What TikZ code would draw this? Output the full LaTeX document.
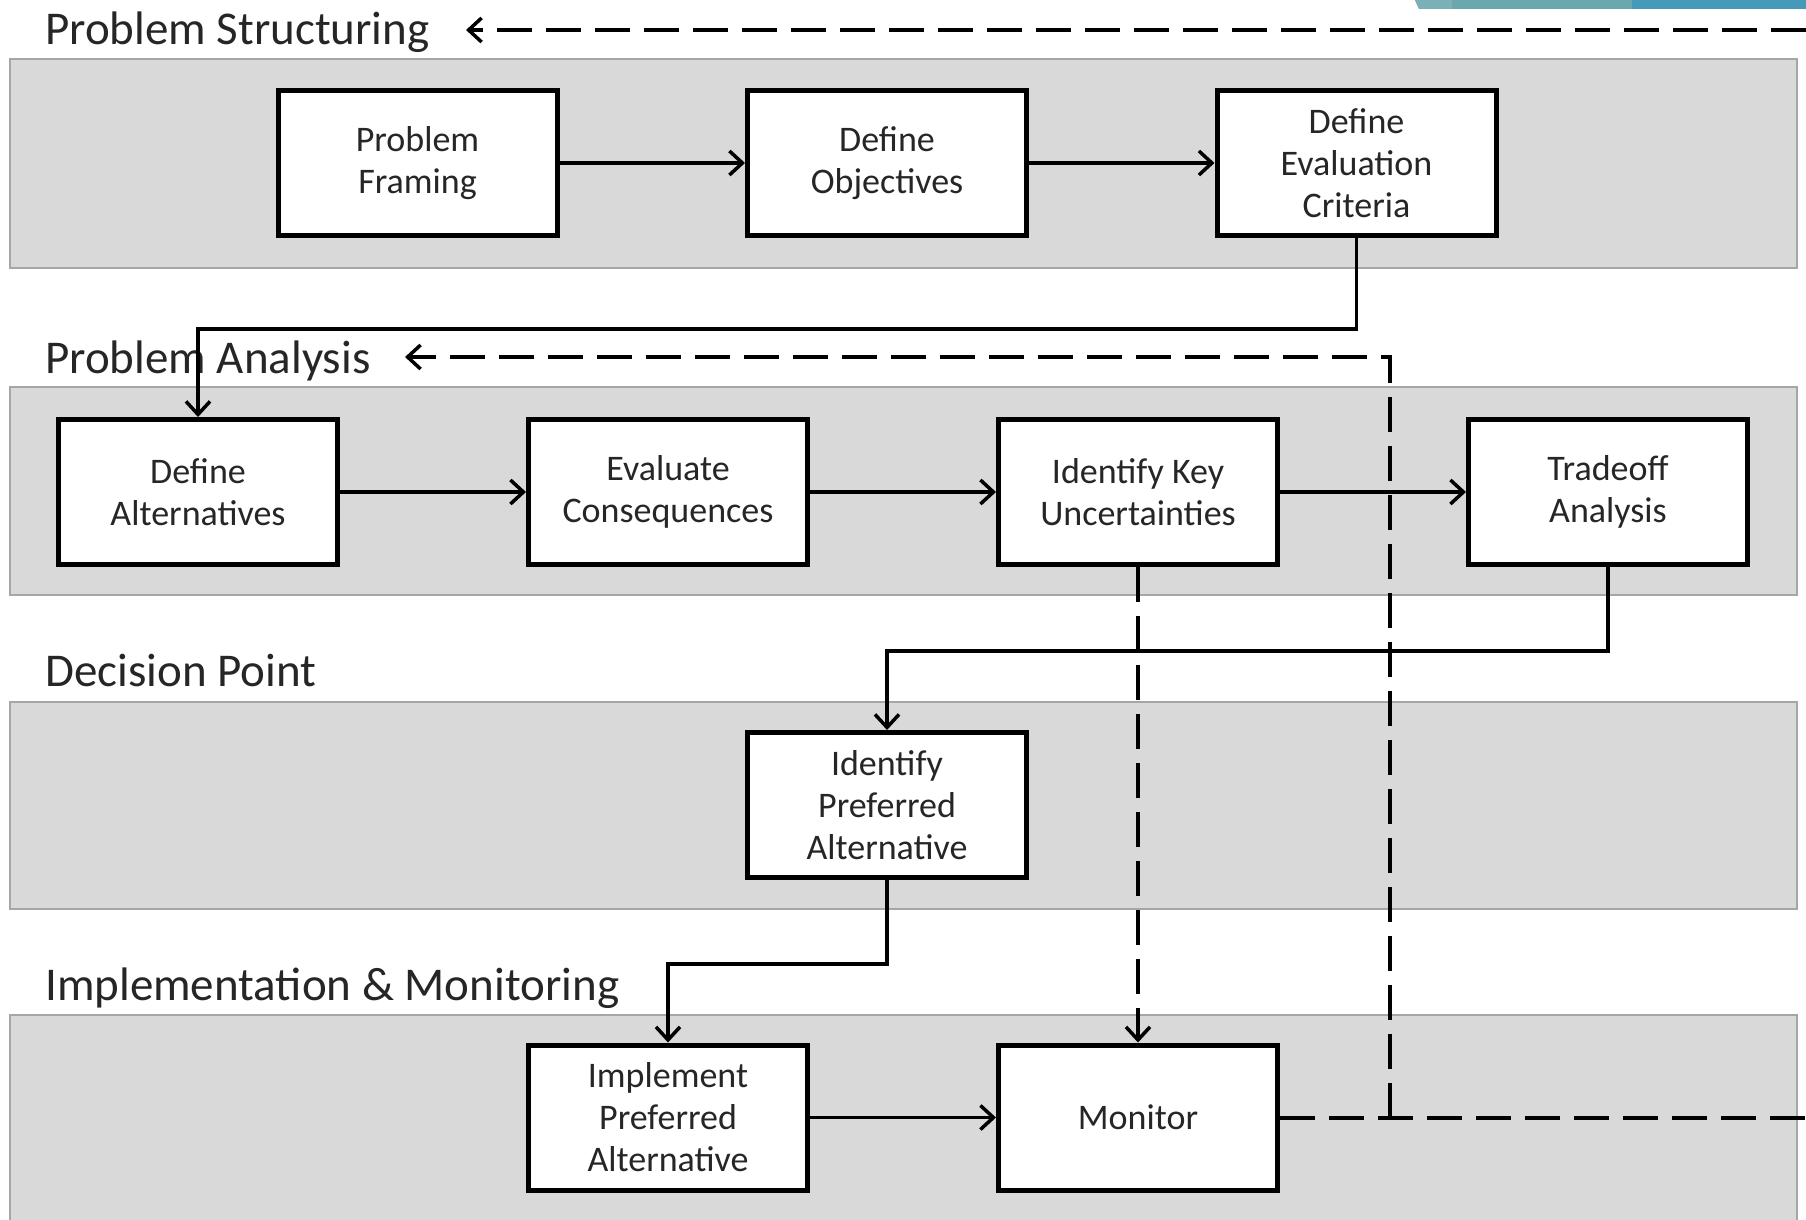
\documentclass[tikz,border=0pt]{standalone}
\usepackage{fontspec}
\setmainfont{Carlito}
\usetikzlibrary{arrows.meta}
\definecolor{bandfill}{HTML}{D9D9D9}
\definecolor{bandline}{HTML}{A6A6A6}
\definecolor{txt}{HTML}{262626}
\definecolor{tealA}{HTML}{6BA8AE}
\definecolor{tealS}{HTML}{79B1B7}
\definecolor{tealB}{HTML}{4599B9}
\tikzset{
  band/.style={fill=bandfill, draw=bandline, line width=1.5pt},
  stepbox/.style={draw=black, fill=white, line width=5pt, minimum width=279pt, minimum height=145pt,
    align=center, text=txt, font=\fontsize{36}{42}\selectfont, inner sep=0pt},
  bandtitle/.style={anchor=base west, inner sep=0pt, text=txt, font=\fontsize{47}{52}\selectfont},
  tip/.style={-{Straight Barb[length=13pt,width=24pt,line width=3.5pt]}},
  conn/.style={line width=3.5pt, black, tip},
  dashline/.style={line width=4pt, black, dash pattern=on 35pt off 14pt},
  dashtip/.style={dashline, -{Straight Barb[length=13pt,width=24pt,line width=3.5pt]}}
}
\begin{document}
\begin{tikzpicture}[x=1pt,y=-1pt]
\useasboundingbox (0,0) rectangle (1806,1220);
\clip (0,0) rectangle (1806,1220);
\fill[white] (0,0) rectangle (1806,1220);
% decorative bar
\fill[tealA] (1415,0) -- (1632,0) -- (1632,9) -- (1419,9) -- cycle;
\fill[tealS] (1415,0) -- (1452,0) -- (1452,9) -- (1419,9) -- cycle;
\fill[tealB] (1632,0) rectangle (1806,9);
% bands
\draw[band] (10,59) rectangle (1797,268);
\draw[band] (10,387) rectangle (1797,595);
\draw[band] (10,702) rectangle (1797,909);
\draw[band] (10,1015) rectangle (1797,1240);
% titles
\node[bandtitle] (t1) at (45,45) {Problem Structuring};
\node[bandtitle] (t2) at (45,373) {Problem Analysis};
\node[bandtitle] (t3) at (45,686) {Decision Point};
\node[bandtitle] (t4) at (45,1000) {Implementation \& Monitoring};
% boxes
\node[stepbox] (pf) at (417.5,163) {Problem\\Framing};
\node[stepbox] (do) at (887,163) {Define\\Objectives};
\node[stepbox] (dec) at (1356.5,163) {Define\\Evaluation\\Criteria};
\node[stepbox] (da) at (198,492) {Define\\Alternatives};
\node[stepbox] (ec) at (668,492) {Evaluate\\Consequences};
\node[stepbox] (iku) at (1138,492) {Identify Key\\Uncertainties};
\node[stepbox] (ta) at (1608,492) {Tradeoff\\Analysis};
\node[stepbox] (ipa) at (887,805) {Identify\\Preferred\\Alternative};
\node[stepbox] (impl) at (668,1117.5) {Implement\\Preferred\\Alternative};
\node[stepbox] (mon) at (1138,1117.5) {Monitor};
% coordinates for dashed feedback loops
\coordinate (edge1) at (1806,30);
\coordinate (tip1) at (466,30);
\coordinate (edge2) at (1806,1117.5);
\coordinate (junc) at (1390,1117.5);
\coordinate (corner) at (1390,357);
\coordinate (tip2) at (405,357);
% solid connectors
\draw[conn] (pf) -- (do);
\draw[conn] (do) -- (dec);
\draw[conn] (da) -- (ec);
\draw[conn] (ec) -- (iku);
\draw[conn] (iku) -- (ta);
\draw[conn] (impl) -- (mon);
\draw[conn] (dec.south) -- ++(0,91) -| (da.north);
\draw[conn] (ta.south) -- ++(0,84) -| (ipa.north);
\draw[conn] (ipa.south) -- ++(0,84) -| (impl.north);
% dashed connectors
\draw[dashtip] (iku.south) -- (mon.north);
\draw[dashline] (mon.east) -- (edge2);
\draw[dashtip] (junc) -- (corner) -- (tip2);
\draw[dashtip] (edge1) -- (tip1);
\end{tikzpicture}
\end{document}
